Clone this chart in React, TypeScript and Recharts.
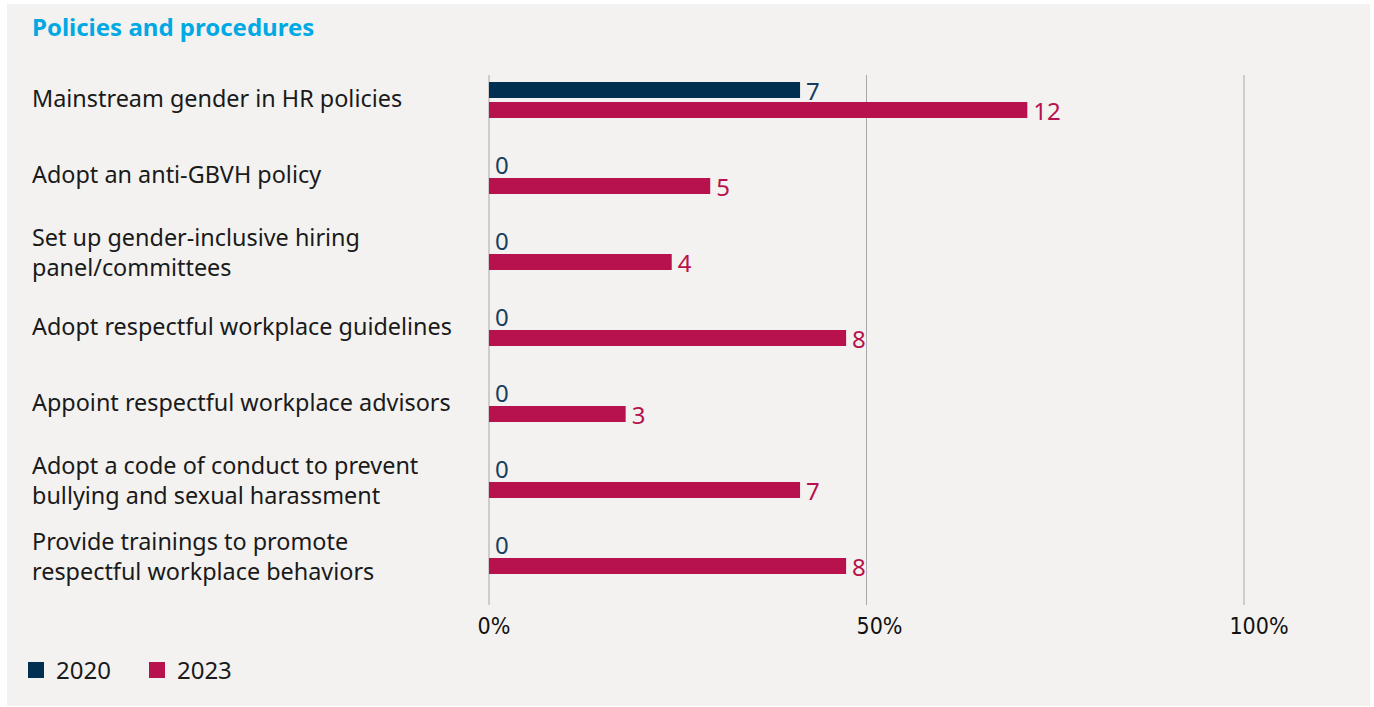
import React from 'react';
import { BarChart, Bar, XAxis, YAxis, CartesianGrid } from 'recharts';

const categories = [
  'Mainstream gender in HR policies',
  'Adopt an anti-GBVH policy',
  'Set up gender-inclusive hiring\npanel/committees',
  'Adopt respectful workplace guidelines',
  'Appoint respectful workplace advisors',
  'Adopt a code of conduct to prevent\nbullying and sexual harassment',
  'Provide trainings to promote\nrespectful workplace behaviors',
];
const share2020 = [41.2, 0, 0, 0, 0, 0, 0];
const share2023 = [71.3, 29.3, 24.2, 47.3, 18.1, 41.2, 47.3];
const count2020 = [7, 0, 0, 0, 0, 0, 0];
const count2023 = [12, 5, 4, 8, 3, 7, 8];
const xTicks = [0, 50, 100];
const seriesNames = ['2020', '2023'];
const title = 'Policies and procedures';

const COLORS = ['#002f52', '#b7124d'];
const LABEL_COLORS = ['#173d5f', '#b7124d'];
const FONT = '"Noto Sans", sans-serif';

const data = categories.map((c, i) => ({
  name: c,
  s2020: share2020[i],
  s2023: share2023[i],
}));

const YTick = (props: any) => {
  const { y, payload } = props;
  const lines = String(payload.value).split('\n');
  const offsets = lines.length === 1 ? [-2] : [-15, 15];
  return (
    <g>
      {lines.map((l, i) => (
        <text
          key={i}
          x={32}
          y={y + offsets[i]}
          textAnchor="start"
          dominantBaseline="central"
          fontFamily={FONT}
          fontSize={23.4}
          fill="#1a1a1a"
        >
          {l}
        </text>
      ))}
    </g>
  );
};

const XTick = (props: any) => {
  const { x, payload, index } = props;
  const dx = [5, 13, 15][index] ?? 0;
  return (
    <text
      x={x + dx}
      y={626}
      textAnchor="middle"
      dominantBaseline="central"
      fontFamily='"DejaVu Sans", sans-serif'
      style={{ fontStretch: 'condensed' }}
      fontSize={23}
      fill="#111"
    >
      {`${payload.value}%`}
    </text>
  );
};

const makeShape = (counts: number[], fill: string, labelColor: string) => (props: any) => {
  const { x, y, width, height, index } = props;
  const w = Math.max(0, width || 0);
  return (
    <g>
      {w > 0 && <rect x={x} y={y} width={w} height={height} fill={fill} />}
      <text
        x={x + w + 6}
        y={y + height / 2 - (w > 0 ? 0 : 2)}
        dominantBaseline="central"
        textAnchor="start"
        fontFamily={FONT}
        fontSize={24}
        fill={labelColor}
      >
        {counts[index]}
      </text>
    </g>
  );
};

export default function App() {
  return (
    <div style={{ position: 'absolute', left: 0, top: 0, width: 1374, height: 707, background: '#ffffff' }}>
      <div style={{ position: 'absolute', left: 7, top: 4, width: 1363, height: 702, background: '#f3f2f0' }} />
      <div
        style={{
          position: 'absolute',
          left: 32,
          top: 12,
          fontFamily: FONT,
          fontWeight: 700,
          fontSize: 24,
          color: '#00a9e4',
          lineHeight: '30px',
        }}
      >
        {title}
      </div>
      <div style={{ position: 'absolute', left: 0, top: 0 }}>
        <BarChart
          width={1374}
          height={700}
          data={data}
          layout="vertical"
          margin={{ top: 75, right: 130, bottom: 55, left: 0 }}
          barSize={16}
          barGap={4}
        >
          <CartesianGrid horizontal={false} vertical={true} stroke="#a9a9a9" strokeWidth={1} />
          <XAxis
            type="number"
            domain={[0, 100]}
            ticks={xTicks}
            axisLine={false}
            tickLine={false}
            height={40}
            tick={<XTick />}
            interval={0}
          />
          <YAxis
            type="category"
            dataKey="name"
            width={489}
            axisLine={false}
            tickLine={false}
            tick={<YTick />}
            interval={0}
            padding={{ top: -13, bottom: 11 }}
          />
          <Bar
            dataKey="s2020"
            fill={COLORS[0]}
            isAnimationActive={false}
            shape={makeShape(count2020, COLORS[0], LABEL_COLORS[0])}
          />
          <Bar
            dataKey="s2023"
            fill={COLORS[1]}
            isAnimationActive={false}
            shape={makeShape(count2023, COLORS[1], LABEL_COLORS[1])}
          />
        </BarChart>
      </div>
      <div
        style={{
          position: 'absolute',
          left: 28,
          top: 655,
          display: 'flex',
          alignItems: 'center',
          fontFamily: FONT,
          fontSize: 24,
          color: '#1a1a1a',
          lineHeight: '30px',
        }}
      >
        {seriesNames.map((n, i) => (
          <div key={n} style={{ display: 'flex', alignItems: 'center', marginRight: 38 }}>
            <div style={{ width: 16, height: 16, background: COLORS[i], marginRight: 12 }} />
            <span>{n}</span>
          </div>
        ))}
      </div>
    </div>
  );
}
